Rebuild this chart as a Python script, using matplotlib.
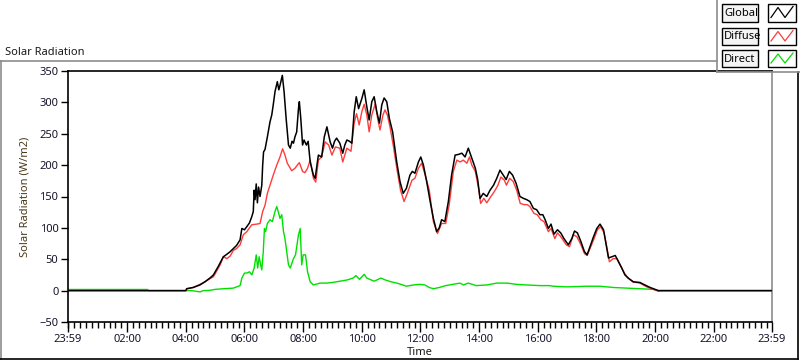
import matplotlib
matplotlib.use('Agg')
import matplotlib.pyplot as plt
from matplotlib.patches import Rectangle
from matplotlib.lines import Line2D
from matplotlib.ticker import FixedLocator, MultipleLocator
import numpy as np

plt.rcParams['font.family'] = ['Noto Sans', 'DejaVu Sans']

W, H = 800, 361

# time in hours (23:59 of previous day -> 23:59)
global_t = [-0.017, 4.0, 4.03, 4.25, 4.48, 4.65, 4.82, 4.94, 5.1, 5.28, 5.4, 5.51, 5.62, 5.73, 5.85,
            5.91, 6.0, 6.08, 6.17, 6.25, 6.30, 6.33, 6.36, 6.40, 6.44, 6.48, 6.53, 6.59, 6.62, 6.65,
            6.70, 6.74, 6.78, 6.87, 6.93, 6.98, 7.04, 7.08, 7.12, 7.17, 7.21, 7.29, 7.35, 7.42, 7.50,
            7.56, 7.62, 7.67, 7.72, 7.78, 7.84, 7.87, 7.92, 7.98, 8.03, 8.11, 8.17, 8.24, 8.35, 8.41,
            8.47, 8.52, 8.63, 8.72, 8.81, 8.92, 9.0, 9.07, 9.14, 9.25, 9.35, 9.42, 9.49, 9.58, 9.66,
            9.74, 9.81, 9.89, 10.0, 10.08, 10.17, 10.25, 10.34, 10.42, 10.51, 10.60, 10.68, 10.76,
            10.85, 10.94, 11.05, 11.19, 11.30, 11.41, 11.52, 11.64, 11.72, 11.81, 11.93, 12.01, 12.10,
            12.21, 12.33, 12.44, 12.55, 12.64, 12.72, 12.83, 12.95, 13.06, 13.18, 13.29, 13.41, 13.52,
            13.63, 13.75, 13.87, 13.95, 14.03, 14.14, 14.26, 14.37, 14.49, 14.60, 14.71, 14.82, 14.92,
            15.03, 15.14, 15.26, 15.39, 15.51, 15.62, 15.73, 15.85, 15.96, 16.07, 16.17, 16.25, 16.36,
            16.45, 16.55, 16.67, 16.78, 16.89, 17.04, 17.16, 17.25, 17.35, 17.47, 17.59, 17.68, 17.78,
            17.90, 18.01, 18.12, 18.24, 18.33, 18.41, 18.52, 18.64, 18.75, 18.86, 18.97, 19.08, 19.26,
            19.48, 19.65, 19.83, 20.0, 20.11, 23.983]
global_v = [0, 0, 3, 5, 9, 14, 20, 25, 38, 54, 58, 62, 67, 72, 81,
            99, 97, 102, 108, 118, 126, 160, 145, 170, 140, 165, 150, 168, 200, 221,
            225, 235, 245, 269, 280, 296, 317, 325, 333, 320, 327, 343, 317, 274, 232,
            227, 238, 235, 245, 253, 290, 301, 274, 232, 240, 232, 238, 205, 184, 179,
            200, 216, 213, 245, 261, 237, 227, 238, 243, 235, 219, 232, 240, 238, 235,
            285, 309, 290, 306, 320, 293, 272, 301, 309, 285, 267, 296, 307,
            301, 274, 253, 205, 174, 155, 163, 184, 190, 187, 205, 213, 200,
            174, 142, 115, 94, 100, 113, 110, 142, 184, 216, 217, 219, 213,
            227, 211, 195, 177, 147, 155, 150, 160, 168, 179, 192, 184, 177,
            190, 184, 171, 150, 147, 145, 142, 131, 129, 121, 121, 113, 99,
            106, 90, 97, 92, 83, 73, 83, 95, 92, 78, 62, 57, 70,
            86, 99, 106, 97, 73, 52, 54, 56, 46, 36, 25, 20, 14,
            13, 9, 5, 2, 0, 0]

diffuse_t = [-0.017, 4.0, 4.03, 4.25, 4.48, 4.65, 4.82, 4.94, 5.17, 5.28, 5.4, 5.51, 5.62, 5.73, 5.85,
             5.96, 6.08, 6.17, 6.25, 6.42, 6.53, 6.62, 6.70, 6.78, 6.87, 6.98, 7.10, 7.21, 7.30, 7.38,
             7.46, 7.61, 7.72, 7.80, 7.87, 7.98, 8.06, 8.15, 8.24, 8.35, 8.43, 8.52, 8.63, 8.75, 8.87,
             8.98, 9.10, 9.25, 9.35, 9.49, 9.63, 9.74, 9.82, 9.91, 10.0, 10.08, 10.17, 10.25, 10.34,
             10.46, 10.54, 10.62, 10.72, 10.79, 10.87, 10.96, 11.07, 11.21, 11.32, 11.44, 11.55, 11.71,
             11.81, 11.93, 12.04, 12.16, 12.30, 12.44, 12.58, 12.72, 12.86, 12.98, 13.12, 13.24, 13.35,
             13.46, 13.58, 13.67, 13.75, 13.87, 13.99, 14.05, 14.16, 14.26, 14.40, 14.52, 14.64, 14.74,
             14.86, 14.93, 15.04, 15.16, 15.28, 15.40, 15.53, 15.64, 15.73, 15.87, 15.98, 16.10, 16.21,
             16.36, 16.45, 16.58, 16.67, 16.78, 16.97, 17.08, 17.21, 17.33, 17.47, 17.59, 17.68, 17.78,
             17.92, 18.03, 18.14, 18.26, 18.36, 18.44, 18.57, 18.70, 18.81, 18.95, 19.06, 19.23, 19.48,
             19.71, 19.94, 20.11, 20.2, 23.983]
diffuse_v = [0, 0, 3, 5, 10, 14, 19, 22, 41, 54, 51, 55, 64, 67, 73,
             89, 94, 100, 105, 106, 107, 126, 136, 155, 168, 184, 200, 213, 226, 216,
             203, 191, 195, 200, 204, 190, 188, 195, 208, 179, 173, 208, 213, 237, 232,
             216, 229, 227, 205, 227, 222, 267, 282, 264, 285, 297, 280, 253, 280,
             298, 274, 256, 280, 288, 280, 261, 232, 190, 160, 142, 155, 176,
             179, 195, 203, 184, 160, 110, 91, 107, 107, 137, 190, 208, 205,
             208, 203, 213, 200, 190, 160, 139, 147, 140, 150, 158, 168, 181,
             176, 168, 179, 174, 160, 139, 137, 137, 134, 123, 121, 113, 110,
             94, 99, 83, 92, 86, 73, 70, 89, 86, 73, 59, 56, 67,
             83, 97, 102, 92, 67, 46, 51, 51, 41, 28, 21, 14, 12,
             6, 2, -1, 0, 0]

direct_t = [-0.017, 2.7, 2.72, 4.0, 4.2, 4.48, 4.6, 4.82, 5.0, 5.28, 5.62, 5.85, 5.91, 6.0, 6.08,
            6.17, 6.25, 6.33, 6.40, 6.45, 6.50, 6.55, 6.59, 6.64, 6.68, 6.72, 6.78, 6.87, 6.95, 7.04,
            7.10, 7.15, 7.21, 7.27, 7.33, 7.38, 7.44, 7.50, 7.56, 7.67, 7.74, 7.84, 7.90, 7.95, 8.0,
            8.08, 8.15, 8.24, 8.35, 8.58, 8.8, 9.0, 9.25, 9.5, 9.7, 9.80, 9.92, 10.08, 10.17, 10.42,
            10.65, 10.8, 11.0, 11.19, 11.4, 11.52, 11.75, 11.98, 12.15, 12.30, 12.44, 12.64, 12.86,
            13.1, 13.35, 13.46, 13.63, 13.9, 14.26, 14.60, 14.94, 15.28, 15.62, 16.07, 16.39, 16.53,
            16.99, 17.67, 18.12, 18.57, 19.03, 19.48, 19.94, 20.11, 23.983]
direct_v = [1.8, 1.8, 0, 0, 0, -2, 0, 0.5, 2, 3, 4, 8, 20, 28, 28,
            30, 25, 36, 57, 36, 54, 41, 33, 62, 99, 94, 107, 113, 110, 126,
            134, 126, 115, 121, 94, 83, 62, 41, 36, 51, 57, 89, 99, 41, 57,
            57, 30, 14, 9, 12, 12, 13, 15, 17, 20, 24, 18, 26, 20, 15,
            20, 17, 14, 12, 9, 7, 9, 10, 9, 5, 3, 5, 8,
            10, 12, 9, 12, 8, 9, 12, 12, 10, 9, 8, 8, 7,
            6, 7, 7, 5, 4, 3, 2, 0, 0]

series_names = ['Global', 'Diffuse', 'Direct']
series_colors = ['#000000', '#ff3c3c', '#00e000']

x_start, x_end = -1 / 60, 23 + 59 / 60
major_ticks = [x_start, 2, 4, 6, 8, 10, 12, 14, 16, 18, 20, 22, x_end]
major_labels = ['23:59', '02:00', '04:00', '06:00', '08:00', '10:00', '12:00',
                '14:00', '16:00', '18:00', '20:00', '22:00', '23:59']


def px(x, y):
    return x / W, 1 - y / H


fig = plt.figure(figsize=(8, 3.61), dpi=100)
fig.patch.set_facecolor('white')

l, b = px(68, 322)
r, t = px(772, 71)
ax = fig.add_axes([l, b, r - l, t - b])

ax.plot(direct_t, direct_v, color=series_colors[2], lw=1.0, zorder=1)
ax.plot(diffuse_t, diffuse_v, color=series_colors[1], lw=1.0, zorder=2)
ax.plot(global_t, global_v, color=series_colors[0], lw=1.1, zorder=3)

ax.set_xlim(x_start, x_end)
ax.set_ylim(-50, 350)
ax.set_yticks(np.arange(-50, 351, 50))
ax.xaxis.set_major_locator(FixedLocator(major_ticks))
ax.set_xticklabels(major_labels)
ax.xaxis.set_minor_locator(MultipleLocator(0.2))

tick_col = '#14142a'
ax.tick_params(axis='both', which='major', labelsize=8, labelcolor=tick_col, width=1, color='black')
ax.tick_params(axis='x', which='major', length=7, pad=2)
ax.tick_params(axis='x', which='minor', length=4, width=1)
ax.tick_params(axis='y', which='major', length=5, pad=2)

for s in ['left', 'bottom', 'top']:
    ax.spines[s].set_color('black')
    ax.spines[s].set_linewidth(1.2)
ax.spines['right'].set_color('#8c8c8c')
ax.spines['right'].set_linewidth(1.2)

ax.set_ylabel('Solar Radiation (W/m2)', fontsize=8, color='#4a3a1a', labelpad=6)
ax.set_xlabel('Time', fontsize=8, color='#1a1a1a', labelpad=1)

fig.text(*px(5, 55), 'Solar Radiation', fontsize=8, color='#1a1a1a', va='baseline', ha='left')

# panel frame (sunken look)
fig.add_artist(Line2D([0, 717 / W], [1 - 61 / H] * 2, color='#8c8c8c', lw=1.2, transform=fig.transFigure))
fig.add_artist(Line2D([0.5 / W] * 2, [1 - 61 / H, 1 - 359 / H], color='#8c8c8c', lw=1.2, transform=fig.transFigure))
fig.add_artist(Line2D([0, 798 / W], [1 - 359 / H] * 2, color='black', lw=1.2, transform=fig.transFigure))
fig.add_artist(Line2D([797.5 / W] * 2, [1 - 72 / H, 1 - 359 / H], color='black', lw=1.2, transform=fig.transFigure))

# legend panel
fig.add_artist(Line2D([717 / W] * 2, [1, 1 - 72 / H], color='#8c8c8c', lw=1.2, transform=fig.transFigure))
fig.add_artist(Line2D([717 / W, 1], [1 - 72 / H] * 2, color='#8c8c8c', lw=1.2, transform=fig.transFigure))

rows = [(3.5, 21.5), (27.5, 45), (50, 67)]
for name, col, (y0, y1) in zip(series_names, series_colors, rows):
    x0, yb = px(722, y1)
    fig.add_artist(Rectangle((x0, yb), 36 / W, (y1 - y0) / H, transform=fig.transFigure,
                             facecolor='#f4f4f4', edgecolor='black', lw=1.0))
    fig.text(*px(724, (y0 + y1) / 2 + 0.5), name, fontsize=8, color='black', va='center', ha='left')
    sx, sb = px(768, y1)
    fig.add_artist(Rectangle((sx, sb), 28 / W, (y1 - y0) / H, transform=fig.transFigure,
                             facecolor='white', edgecolor='black', lw=1.0))
    zx = [771, 778, 785, 793]
    zy = [y1 - 4, y0 + 4, y1 - 4, y0 + 3]
    fig.add_artist(Line2D([p / W for p in zx], [1 - q / H for q in zy], color=col, lw=0.9,
                          transform=fig.transFigure))

fig.savefig('out.png', dpi=100)
